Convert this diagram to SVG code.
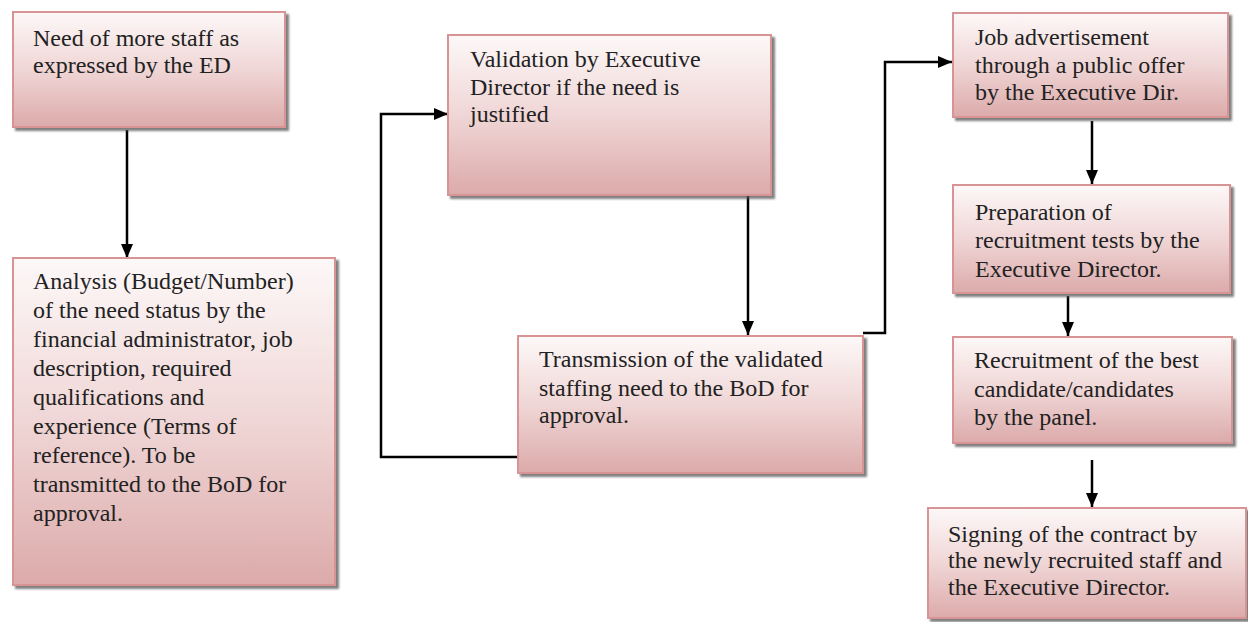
<svg xmlns="http://www.w3.org/2000/svg" width="1248" height="622" viewBox="0 0 1248 622">
<defs>
<linearGradient id="g" x1="0" y1="0" x2="0" y2="1">
<stop offset="0" stop-color="#fdf8f8"/>
<stop offset="0.5" stop-color="#f0d6d6"/>
<stop offset="1" stop-color="#dcaaaa"/>
</linearGradient>
<filter id="sh" x="-5%" y="-5%" width="115%" height="115%">
<feDropShadow dx="3" dy="3" stdDeviation="1.2" flood-color="#555" flood-opacity="0.75"/>
</filter>
<marker id="ah" viewBox="0 0 14 12" refX="14" refY="6" markerWidth="14" markerHeight="12" markerUnits="userSpaceOnUse" orient="auto">
<path d="M0,0 L14,6 L0,12 Z" fill="#000"/>
</marker>
</defs>
<style>
.box{fill:url(#g);stroke:#d89494;stroke-width:2;filter:url(#sh)}
.t{font-family:"Liberation Serif","Times New Roman",serif;font-size:24px;fill:#222}
.c{fill:none;stroke:#000;stroke-width:2.5}
</style>
<rect width="1248" height="622" fill="#fff"/>
<g id="connectors">
<path class="c" d="M127,130 V258" marker-end="url(#ah)"/>
<path class="c" d="M518,457 H381 V114 H448" marker-end="url(#ah)"/>
<path class="c" d="M748,196 V335" marker-end="url(#ah)"/>
<path class="c" d="M863,333 H885 V62 H952" marker-end="url(#ah)"/>
<path class="c" d="M1092,121 V184" marker-end="url(#ah)"/>
<path class="c" d="M1068,296 V336" marker-end="url(#ah)"/>
<path class="c" d="M1092,460 V507" marker-end="url(#ah)"/>
</g>
<g id="n1">
<rect class="box" x="13" y="12" width="272" height="115"/>
<text class="t" x="33" y="46">Need of more staff as</text>
<text class="t" x="33" y="73">expressed by the ED</text>
</g>
<g id="n2">
<rect class="box" x="13" y="258" width="322" height="327"/>
<text class="t" x="33" y="289">Analysis (Budget/Number)</text>
<text class="t" x="33" y="318">of the need status by the</text>
<text class="t" x="33" y="347">financial administrator, job</text>
<text class="t" x="33" y="376">description, required</text>
<text class="t" x="33" y="405">qualifications and</text>
<text class="t" x="33" y="434">experience (Terms of</text>
<text class="t" x="33" y="463">reference). To be</text>
<text class="t" x="33" y="492">transmitted to the BoD for</text>
<text class="t" x="33" y="521">approval.</text>
</g>
<g id="n3">
<rect class="box" x="448" y="35" width="323" height="160"/>
<text class="t" x="470" y="67">Validation by Executive</text>
<text class="t" x="470" y="95">Director if the need is</text>
<text class="t" x="470" y="122">justified</text>
</g>
<g id="n4">
<rect class="box" x="518" y="336" width="345" height="137"/>
<text class="t" x="539" y="367">Transmission of the validated</text>
<text class="t" x="539" y="396">staffing need to the BoD for</text>
<text class="t" x="539" y="423">approval.</text>
</g>
<g id="n5">
<rect class="box" x="953" y="13" width="275" height="104"/>
<text class="t" x="975" y="45">Job advertisement</text>
<text class="t" x="975" y="73">through a public offer</text>
<text class="t" x="975" y="100">by the Executive Dir.</text>
</g>
<g id="n6">
<rect class="box" x="953" y="185" width="277" height="108"/>
<text class="t" x="975" y="220">Preparation of</text>
<text class="t" x="975" y="248">recruitment tests by the</text>
<text class="t" x="975" y="277">Executive Director.</text>
</g>
<g id="n7">
<rect class="box" x="953" y="337" width="279" height="106"/>
<text class="t" x="974" y="368">Recruitment of the best</text>
<text class="t" x="974" y="397">candidate/candidates</text>
<text class="t" x="974" y="425">by the panel.</text>
</g>
<g id="n8">
<rect class="box" x="928" y="508" width="318" height="110"/>
<text class="t" x="948" y="542">Signing of the contract by</text>
<text class="t" x="948" y="568">the newly recruited staff and</text>
<text class="t" x="948" y="595">the Executive Director.</text>
</g>
</svg>
